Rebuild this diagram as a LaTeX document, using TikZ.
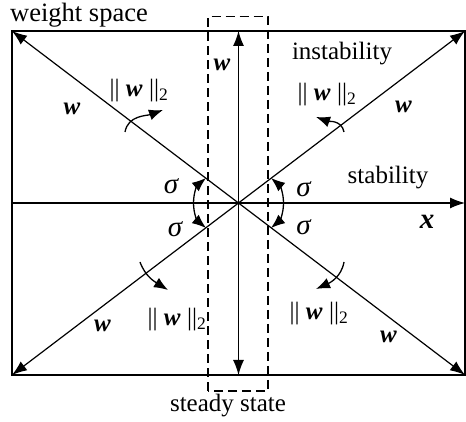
\documentclass[tikz,border=0pt]{standalone}
\usepackage{fontspec}
\setmainfont{Liberation Serif}
\usetikzlibrary{arrows.meta}

\newcommand{\vw}{\textbf{\textit{w}}}
\newcommand{\normw}{\textbar\textbar\ \vw\ \textbar\textbar\textsubscript{2}}

\begin{document}
\begin{tikzpicture}[x=1pt,y=1pt,
  lbl/.style={font=\fontsize{25}{30}\selectfont, inner sep=0pt, anchor=base},
  sig/.style={lbl, font=\fontsize{29}{30}\selectfont\itshape},
  frame/.style={line width=1.6pt},
  axis/.style={line width=1.2pt, -{Latex[length=15pt,width=11pt]}},
  dbl/.style={line width=1.2pt, {Latex[length=15pt,width=11pt]}-{Latex[length=15pt,width=11pt]}},
  turn/.style={line width=1.3pt, -{Latex[length=14pt,width=11pt]}},
  zone/.style={line width=1.3pt, dash pattern=on 9pt off 5pt}
]
\useasboundingbox (0,0) rectangle (466,422);

% frame and axes
\coordinate (O) at (238.5,219);
\coordinate (tl) at (12,391);
\coordinate (tr) at (465,391);
\coordinate (bl) at (12,47);
\coordinate (br) at (465,47);
\coordinate (top) at (238.5,391);
\coordinate (bot) at (238.5,47);
\coordinate (lft) at (12,219);
\coordinate (rgt) at (465,219);

\draw[frame] (bl) rectangle (tr);
\draw[axis] (lft) -- (rgt);
\draw[dbl] (bot) -- (top);
\draw[dbl] (bl) -- (tr);
\draw[dbl] (tl) -- (br);

% steady state zone
\draw[zone] (208,31) rectangle (268,405.5);

% rotation of the norm
\draw[turn] (125,290) to[out=80,in=200] (163,312);
\draw[turn] (344,290) to[out=100,in=-20] (316,305);
\draw[turn] (140,160) to[out=-70,in=148] (168,132);
\draw[turn] (344,160) to[out=-100,in=24] (316,133);

% sigma arcs
\draw[turn] (193.5,219) to[out=90,in=220] (206,244);
\draw[turn] (193.5,219) to[out=-90,in=140] (206,194);
\draw[turn] (283.5,219) to[out=90,in=-40] (271,244);
\draw[turn] (283.5,219) to[out=-90,in=40] (271,194);

% labels
\node[lbl, anchor=base west, font=\fontsize{26.5}{30}\selectfont] (ws) at (10,400) {weight space};
\node[lbl] (ss) at (228,10) {steady state};
\node[lbl] (ins) at (342,362) {instability};
\node[lbl] (sta) at (388,238) {stability};
\node[lbl, font=\fontsize{29}{30}\selectfont] (xl) at (427,193) {\textbf{\textit{x}}};

\node[lbl] (w1) at (222,351) {\vw};
\node[lbl] (w2) at (72,307) {\vw};
\node[lbl] (w3) at (403.5,309) {\vw};
\node[lbl] (w4) at (102.5,90) {\vw};
\node[lbl] (w5) at (388.5,79) {\vw};

\node[lbl] (n1) at (139,325) {\normw};
\node[lbl] (n2) at (327,321) {\normw};
\node[lbl] (n3) at (177,96) {\normw};
\node[lbl] (n4) at (319,102) {\normw};

\node[sig] (s1) at (171,228) {σ};
\node[sig] (s2) at (303.5,225) {σ};
\node[sig] (s3) at (175,185) {σ};
\node[sig] (s4) at (303.5,187) {σ};
\end{tikzpicture}
\end{document}
